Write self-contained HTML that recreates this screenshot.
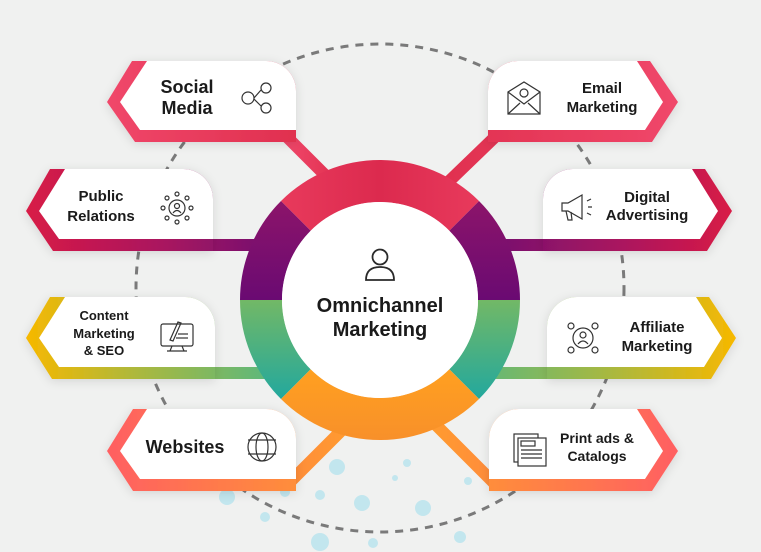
<!DOCTYPE html>
<html><head><meta charset="utf-8"><style>
html,body{margin:0;padding:0;background:#f0f1f0;}
svg{display:block;}
text{font-family:"Liberation Sans",sans-serif;font-weight:bold;fill:#1a1a1a;text-anchor:middle;}
</style></head><body>
<svg width="761" height="552" viewBox="0 0 761 552" xmlns="http://www.w3.org/2000/svg">
<defs>
<filter id="sh" x="-20%" y="-30%" width="140%" height="160%"><feDropShadow dx="0" dy="2" stdDeviation="5" flood-color="#000" flood-opacity="0.12"/></filter>
<linearGradient id="gSoc" x1="0" x2="1"><stop offset="0" stop-color="#f0476a"/><stop offset="1" stop-color="#e0304f"/></linearGradient>
<linearGradient id="gPR" gradientUnits="userSpaceOnUse" x1="26" x2="260"><stop offset="0" stop-color="#d81b46"/><stop offset="0.6" stop-color="#a81560"/><stop offset="1" stop-color="#7a0f6e"/></linearGradient>
<linearGradient id="gCM" gradientUnits="userSpaceOnUse" x1="26" x2="260"><stop offset="0" stop-color="#f7b800"/><stop offset="0.5" stop-color="#a8b840"/><stop offset="1" stop-color="#62b878"/></linearGradient>
<linearGradient id="gWeb" gradientUnits="userSpaceOnUse" x1="107" x2="345"><stop offset="0" stop-color="#ff5f62"/><stop offset="1" stop-color="#ff9a30"/></linearGradient>
<linearGradient id="gEm" gradientUnits="userSpaceOnUse" x1="440" x2="678"><stop offset="0" stop-color="#e0304f"/><stop offset="1" stop-color="#f0476a"/></linearGradient>
<linearGradient id="gDA" gradientUnits="userSpaceOnUse" x1="500" x2="732"><stop offset="0" stop-color="#7a0f6e"/><stop offset="0.5" stop-color="#a81560"/><stop offset="1" stop-color="#d81b46"/></linearGradient>
<linearGradient id="gAf" gradientUnits="userSpaceOnUse" x1="482" x2="736"><stop offset="0" stop-color="#62b878"/><stop offset="0.5" stop-color="#a8b840"/><stop offset="1" stop-color="#f7b800"/></linearGradient>
<linearGradient id="gPr" gradientUnits="userSpaceOnUse" x1="436" x2="678"><stop offset="0" stop-color="#ff9a30"/><stop offset="1" stop-color="#ff5f62"/></linearGradient>
<linearGradient id="rRed" x1="0" x2="1"><stop offset="0" stop-color="#e83a5c"/><stop offset="0.5" stop-color="#dc2a4e"/><stop offset="1" stop-color="#e83a5c"/></linearGradient>
<linearGradient id="rPur" x1="0" y1="0" x2="0" y2="1"><stop offset="0" stop-color="#8c146a"/><stop offset="1" stop-color="#6a0a72"/></linearGradient>
<linearGradient id="rGrn" gradientUnits="userSpaceOnUse" x1="0" y1="300" x2="0" y2="400"><stop offset="0" stop-color="#72b866"/><stop offset="1" stop-color="#22a89e"/></linearGradient>
<linearGradient id="rOr" x1="0" x2="0" y1="0" y2="1"><stop offset="0" stop-color="#ffa020"/><stop offset="1" stop-color="#f8902a"/></linearGradient>
</defs>

<circle cx="380" cy="288" r="244" fill="none" stroke="#7a7a7a" stroke-width="3" stroke-dasharray="8 7"/>

<g fill="#c2e6ee">
<circle cx="337" cy="467" r="8"/><circle cx="320" cy="495" r="5"/><circle cx="362" cy="503" r="8"/><circle cx="265" cy="517" r="5"/><circle cx="320" cy="542" r="9"/><circle cx="227" cy="497" r="8"/><circle cx="285" cy="492" r="5"/><circle cx="373" cy="543" r="5"/><circle cx="407" cy="463" r="4"/><circle cx="468" cy="481" r="4"/><circle cx="423" cy="508" r="8"/><circle cx="460" cy="537" r="6"/><circle cx="395" cy="478" r="3"/>
</g>

<line x1="286" y1="136" x2="340" y2="190" stroke="url(#gSoc)" stroke-width="12"/>
<rect x="200" y="239" width="70" height="12" fill="url(#gPR)"/>
<rect x="200" y="367" width="70" height="12" fill="url(#gCM)"/>
<line x1="287" y1="485" x2="345" y2="427" stroke="url(#gWeb)" stroke-width="12"/>
<line x1="496" y1="136" x2="440" y2="190" stroke="url(#gEm)" stroke-width="12"/>
<rect x="495" y="239" width="70" height="12" fill="url(#gDA)"/>
<rect x="482" y="367" width="80" height="12" fill="url(#gAf)"/>
<line x1="496" y1="485" x2="436" y2="425" stroke="url(#gPr)" stroke-width="12"/>

<g filter="url(#sh)">
<path d="M132 61 L266 61 A30 30 0 0 1 296 91 L296 142 L135 142 L107 102 Z" fill="url(#gSoc)"/>
<path d="M50 169 L183 169 A30 30 0 0 1 213 199 L213 251 L53 251 L26 211 Z" fill="url(#gPR)"/>
<path d="M50 297 L185 297 A30 30 0 0 1 215 327 L215 379 L52 379 L26 338 Z" fill="url(#gCM)"/>
<path d="M133 409 L266 409 A30 30 0 0 1 296 439 L296 491 L133 491 L107 451 Z" fill="url(#gWeb)"/>
<path d="M518 61 L650 61 L678 102 L652 142 L488 142 L488 91 A30 30 0 0 1 518 61 Z" fill="url(#gEm)"/>
<path d="M573 169 L705 169 L732 211 L707 251 L543 251 L543 199 A30 30 0 0 1 573 169 Z" fill="url(#gDA)"/>
<path d="M577 297 L709 297 L736 338 L711 379 L547 379 L547 327 A30 30 0 0 1 577 297 Z" fill="url(#gAf)"/>
<path d="M519 409 L650 409 L678 451 L652 491 L489 491 L489 439 A30 30 0 0 1 519 409 Z" fill="url(#gPr)"/>
</g>
<g fill="#fff">
<path d="M147 61 L120 102 L140 130 L296 130 L296 91 A30 30 0 0 0 266 61 Z"/>
<path d="M65 169 L39 211 L59 239 L213 239 L213 199 A30 30 0 0 0 183 169 Z"/>
<path d="M65 297 L39 338 L59 367 L215 367 L215 327 A30 30 0 0 0 185 297 Z"/>
<path d="M147 409 L120 451 L140 479 L296 479 L296 439 A30 30 0 0 0 266 409 Z"/>
<path d="M518 61 L637 61 L663 102 L645 130 L488 130 L488 91 A30 30 0 0 1 518 61 Z"/>
<path d="M573 169 L692 169 L718 211 L700 239 L543 239 L543 199 A30 30 0 0 1 573 169 Z"/>
<path d="M577 297 L696 297 L722 338 L704 367 L547 367 L547 327 A30 30 0 0 1 577 297 Z"/>
<path d="M519 409 L637 409 L663 451 L645 479 L489 479 L489 439 A30 30 0 0 1 519 409 Z"/>
</g>

<g>
<path d="M281 201 A140 140 0 0 1 479 201 L449.3 230.7 A98 98 0 0 0 310.7 230.7 Z" fill="url(#rRed)"/>
<path d="M281 201 A140 140 0 0 0 240 300 L282 300 A98 98 0 0 1 310.7 230.7 Z" fill="url(#rPur)"/>
<path d="M479 201 A140 140 0 0 1 520 300 L478 300 A98 98 0 0 0 449.3 230.7 Z" fill="url(#rPur)"/>
<path d="M240 300 A140 140 0 0 0 281 399 L310.7 369.3 A98 98 0 0 1 282 300 Z" fill="url(#rGrn)"/>
<path d="M520 300 A140 140 0 0 1 479 399 L449.3 369.3 A98 98 0 0 0 478 300 Z" fill="url(#rGrn)"/>
<path d="M281 399 A140 140 0 0 0 479 399 L449.3 369.3 A98 98 0 0 1 310.7 369.3 Z" fill="url(#rOr)"/>
<circle cx="380" cy="300" r="98" fill="#fff"/>
</g>
<g fill="none" stroke="#2a2a2a" stroke-width="1.8">
<circle cx="380" cy="257" r="7.5"/>
<path d="M366 280 Q366 267 380 267 Q394 267 394 280 Z"/>
</g>
<text x="380" y="312" font-size="20">Omnichannel</text>
<text x="380" y="336" font-size="20">Marketing</text>

<text x="187" y="93" font-size="18">Social</text>
<text x="187" y="114" font-size="18">Media</text>
<text x="101" y="201" font-size="15">Public</text>
<text x="101" y="221" font-size="15">Relations</text>
<text x="104" y="320" font-size="13">Content</text>
<text x="104" y="338" font-size="13">Marketing</text>
<text x="104" y="355" font-size="13">&amp; SEO</text>
<text x="185" y="453" font-size="18">Websites</text>
<text x="602" y="93" font-size="15">Email</text>
<text x="602" y="112" font-size="15">Marketing</text>
<text x="647" y="202" font-size="15">Digital</text>
<text x="647" y="220" font-size="15">Advertising</text>
<text x="657" y="332" font-size="15">Affiliate</text>
<text x="657" y="351" font-size="15">Marketing</text>
<text x="597" y="443" font-size="14">Print ads &amp;</text>
<text x="597" y="461" font-size="14">Catalogs</text>

<g fill="none" stroke="#333" stroke-width="1.2">
<circle cx="248" cy="98" r="6"/><circle cx="266" cy="88" r="5"/><circle cx="266" cy="108" r="5"/>
<line x1="254" y1="98" x2="261" y2="90"/><line x1="254" y1="99" x2="261" y2="106"/>
<circle cx="177" cy="208" r="8"/><circle cx="177" cy="206" r="2.5"/><path d="M173 213 Q177 208 181 213"/>
<circle cx="177" cy="194" r="2"/><circle cx="177" cy="222" r="2"/><circle cx="163" cy="208" r="2"/><circle cx="191" cy="208" r="2"/>
<circle cx="167" cy="198" r="2"/><circle cx="187" cy="198" r="2"/><circle cx="167" cy="218" r="2"/><circle cx="187" cy="218" r="2"/>
<rect x="161" y="324" width="32" height="22" rx="2"/><line x1="172" y1="346" x2="170" y2="351"/><line x1="182" y1="346" x2="184" y2="351"/><line x1="167" y1="351" x2="187" y2="351"/>
<path d="M170 340 L178 322 L181 323 L173 341 Z"/><line x1="178" y1="334" x2="188" y2="334"/><line x1="176" y1="338" x2="188" y2="338"/>
<circle cx="262" cy="447" r="14"/><ellipse cx="262" cy="447" rx="6" ry="14"/><line x1="248" y1="440" x2="276" y2="440"/><line x1="248" y1="454" x2="276" y2="454"/>
<path d="M508 92 L508 114 L540 114 L540 92 L524 82 Z"/><path d="M508 92 L524 104 L540 92"/><path d="M508 114 L520 103 M540 114 L528 103"/><circle cx="524" cy="93" r="4"/>
<path d="M562 203 L568 203 L582 195 L582 219 L568 211 L562 211 Z"/><path d="M566 211 L568 220 L572 220 L571 212"/><path d="M587 201 L591 199 M588 207 L592 207 M587 213 L591 215"/>
<circle cx="583" cy="338" r="10"/><circle cx="583" cy="335" r="3"/><path d="M578 344 Q583 338 588 344"/>
<circle cx="571" cy="326" r="3"/><circle cx="595" cy="326" r="3"/><circle cx="571" cy="350" r="3"/><circle cx="595" cy="350" r="3"/>
<rect x="514" y="434" width="24" height="28"/><rect x="518" y="438" width="28" height="28" fill="#fff"/><rect x="521" y="441" width="14" height="5"/><line x1="521" y1="450" x2="542" y2="450"/><line x1="521" y1="454" x2="542" y2="454"/><line x1="521" y1="458" x2="542" y2="458"/>
</g>
</svg>
</body></html>
